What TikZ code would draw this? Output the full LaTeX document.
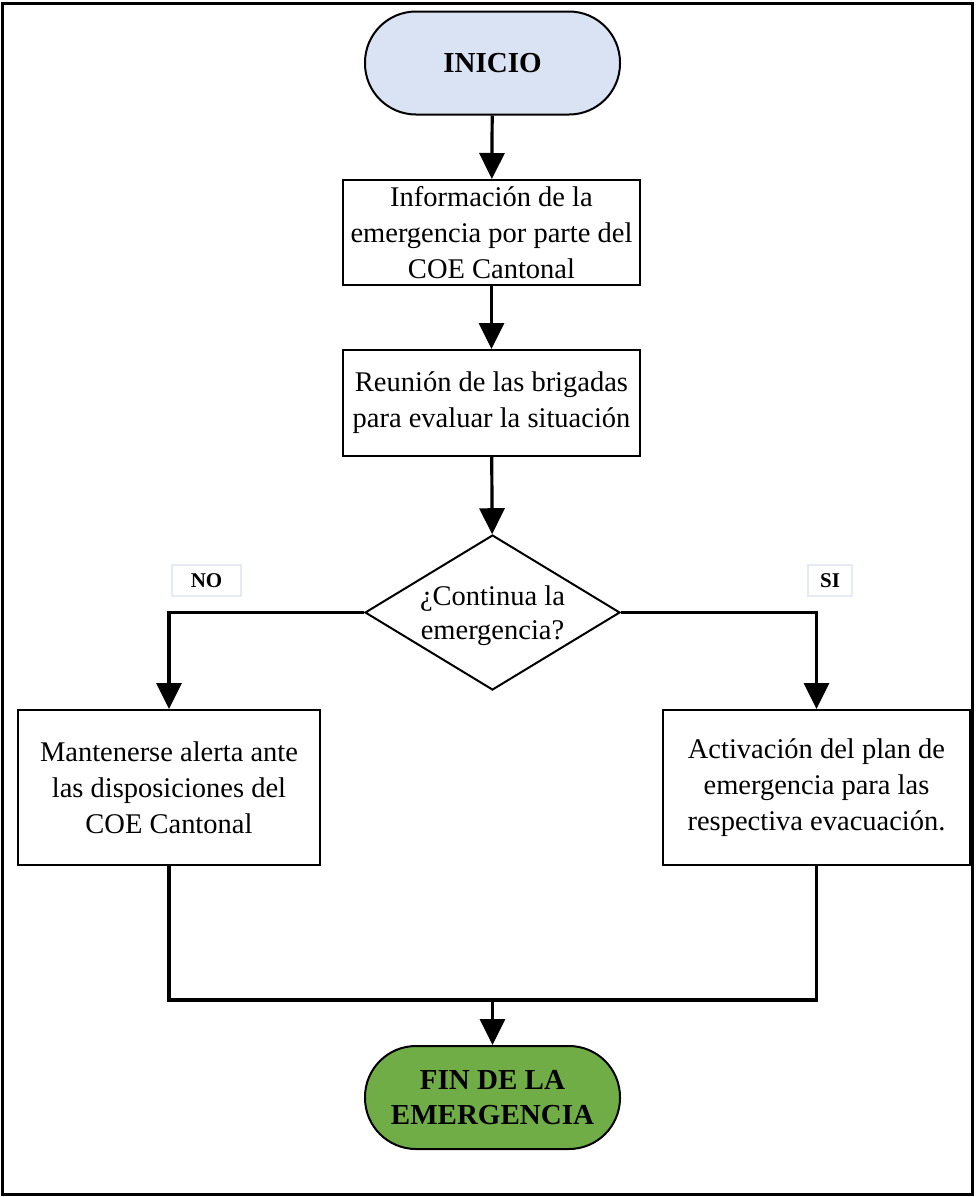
\documentclass[tikz,border=0pt]{standalone}
\usepackage{fontspec}
\setmainfont{Liberation Serif}
\usetikzlibrary{arrows.meta,shapes.geometric}
\definecolor{startblue}{HTML}{DAE3F3}
\definecolor{endgreen}{HTML}{70AD47}
\definecolor{tagframe}{HTML}{E6EBF3}
\begin{document}
\begin{tikzpicture}[x=1pt,y=-1pt,
  flow/.style={line width=3.2pt,-{Triangle[length=26pt,width=25pt]}},
  link/.style={line width=3.2pt},
  terminal/.style={draw,line width=2pt,rectangle,rounded corners=51pt,
    minimum width=255pt,minimum height=103pt,align=center,
    font=\fontsize{29}{35}\selectfont\bfseries},
  procbox/.style={draw,line width=2pt,rectangle,align=center,inner sep=0pt,
    font=\fontsize{28.5}{36}\selectfont},
  decision/.style={draw,line width=2pt,diamond,inner sep=0pt,
    minimum width=255pt,minimum height=155pt},
  tag/.style={draw=tagframe,line width=2pt,inner sep=0pt,
    font=\fontsize{21}{24}\selectfont\bfseries}
]
\useasboundingbox (0,0) rectangle (975,1197);
\draw[line width=3pt] (2,3) rectangle (972,1194);

\node[terminal,fill=startblue] (ini) at (492.5,63) {INICIO};
\node[procbox,minimum width=297pt,minimum height=105pt] (info) at (491.5,232.5)
  {Información de la\\emergencia por parte del\\COE Cantonal};
\node[procbox,minimum width=297pt,minimum height=106pt] (meet) at (491.5,403)
  {Reunión de las brigadas\\para evaluar la situación};
\node[decision] (dec) at (492.5,612.5) {};
\node[font=\fontsize{28.5}{34}\selectfont,align=center] (dectext) at (492.5,616)
  {¿Continua la\\emergencia?};
\node[procbox,minimum width=302pt,minimum height=155pt] (alert) at (169,787.5)
  {Mantenerse alerta ante\\las disposiciones del\\COE Cantonal};
\node[procbox,minimum width=307pt,minimum height=155pt] (plan) at (816.5,787.5)
  {Activación del plan de\\emergencia para las\\respectiva evacuación.};
\node[terminal,fill=endgreen] (fin) at (492.5,1097.5) {FIN DE LA\\EMERGENCIA};

\node[tag,minimum width=69pt,minimum height=31pt] (no) at (206.5,580.5) {NO};
\node[tag,minimum width=44pt,minimum height=31pt] (si) at (830,580.5) {SI};

\coordinate (merge) at (492.5,1000);

\draw[flow] (ini) -- (info);
\draw[flow] (info) -- (meet);
\draw[flow] (meet) -- (dec);
\draw[flow] (dec.west) -| (alert.north);
\draw[flow] (dec.east) -| (plan.north);
\draw[link] (alert.south) |- (merge);
\draw[link] (plan.south) |- (merge);
\draw[flow] (merge) -- (fin);
\end{tikzpicture}
\end{document}
